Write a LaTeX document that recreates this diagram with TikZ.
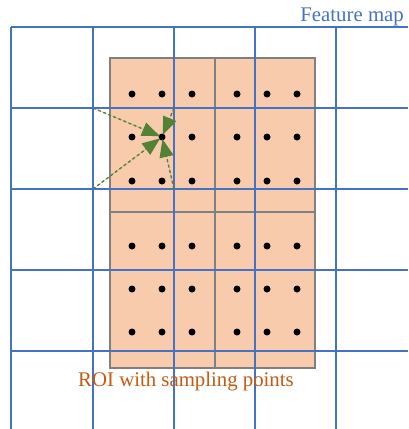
\documentclass[tikz,border=0pt]{standalone}
\usepackage{fontspec}
\setmainfont{Liberation Serif}
\usetikzlibrary{arrows.meta,positioning}
\definecolor{GridBlue}{HTML}{4472C4}
\definecolor{RoiFill}{HTML}{F8CBAD}
\definecolor{RoiEdge}{HTML}{808080}
\definecolor{Leaf}{HTML}{548235}
\definecolor{Rust}{HTML}{C55A11}
\tikzset{
  gridline/.style={draw=GridBlue, line width=1.6pt},
  roicell/.style={draw=RoiEdge, line width=1.6pt, fill=RoiFill},
  sample/.style={circle, fill=black, minimum size=7pt, inner sep=0pt},
  interp/.style={-{Triangle[length=18pt,width=14pt]}, dashed,
    dash pattern=on 3pt off 2.5pt, line width=1.4pt, draw=Leaf, fill=Leaf,
    shorten >=-1.5pt},
  caption/.style={font=\fontsize{20.8}{22}\selectfont, inner sep=0pt}
}

\begin{document}
\begin{tikzpicture}[x=1pt,y=-1pt]
    \useasboundingbox (0,0) rectangle (408,429);

    % roi bins
    \draw[roicell] (110,58) rectangle (215,212);
    \draw[roicell] (215,58) rectangle (315,212);
    \draw[roicell] (110,212) rectangle (215,368);
    \draw[roicell] (215,212) rectangle (315,368);

    % feature map grid
    \foreach \gx in {11,93,174,255,336}
      \draw[gridline] (\gx,27) -- (\gx,429);
    \foreach \gy in {27,108,189,270,351}
      \draw[gridline] (11,\gy) -- (408,\gy);

    % sampling points
    \foreach \sx [count=\i] in {132,162,192,237,267,297}
      \foreach \sy [count=\j] in {94,137,181,246,289,332}
        \node[sample] (d-\i-\j) at (\sx,\sy) {};

    % neighbouring grid corners
    \coordinate (c-nw) at (93,108);
    \coordinate (c-sw) at (93,189);
    \coordinate (c-ne) at (174,108);
    \coordinate (c-se) at (174,189);

    \draw[interp] (c-nw) -- (d-2-2);
    \draw[interp] (c-sw) -- (d-2-2);
    \draw[interp] (c-ne) -- (d-2-2);
    \draw[interp] (c-se) -- (d-2-2);

    \node[caption,text=GridBlue,anchor=base east] (fmap) at (404,21) {Feature map};
    \node[caption,text=Rust,anchor=base] (roi) at (186,386) {ROI with sampling points};
  \end{tikzpicture}
\end{document}
